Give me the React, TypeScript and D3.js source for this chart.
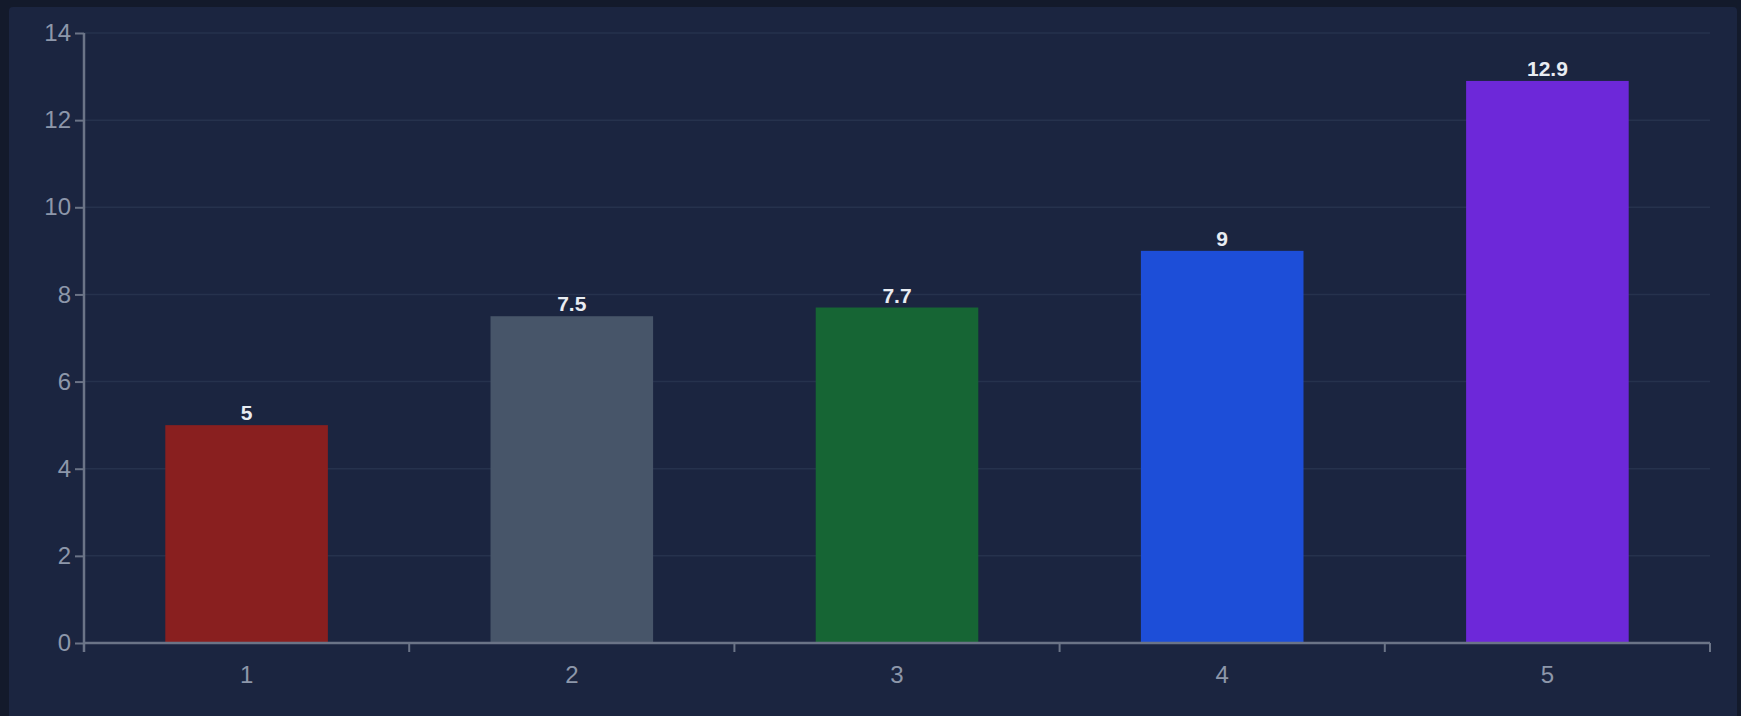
import { useRef, useEffect } from "react";
import * as d3 from "d3";

const categories = ["1", "2", "3", "4", "5"];
const values = [5, 7.5, 7.7, 9, 12.9];
const barColors = ["#891f1f", "#475569", "#166534", "#1d4ed8", "#6d28d9"];
const yTicks = [0, 2, 4, 6, 8, 10, 12, 14];

const W = 1741;
const H = 716;

export default function App() {
  const svgRef = useRef<SVGSVGElement>(null);

  useEffect(() => {
    document.body.style.margin = "0";
    if (!svgRef.current) return;

    const margin = { top: 33, right: 31, bottom: 73, left: 84 };
    const width = W - margin.left - margin.right;
    const height = H - margin.top - margin.bottom;

    const svg = d3.select(svgRef.current);
    svg.selectAll("*").remove();
    svg.attr("width", W).attr("height", H);

    // outer frame + panel
    svg.append("rect").attr("width", W).attr("height", H).attr("fill", "#131a2b");
    svg
      .append("rect")
      .attr("x", 9)
      .attr("y", 7)
      .attr("width", W - 13)
      .attr("height", H)
      .attr("rx", 4)
      .attr("fill", "#1b2540");

    const g = svg
      .append("g")
      .attr("transform", `translate(${margin.left},${margin.top})`);

    const x = d3
      .scaleBand()
      .domain(categories)
      .range([0, width])
      .paddingInner(0.5)
      .paddingOuter(0.25);
    const y = d3.scaleLinear().domain([0, 14]).range([height, 0]);

    // gridlines
    g.append("g")
      .selectAll("line")
      .data(yTicks.filter((t) => t > 0))
      .enter()
      .append("line")
      .attr("x1", 0)
      .attr("x2", width)
      .attr("y1", (d) => y(d))
      .attr("y2", (d) => y(d))
      .attr("stroke", "#26324d")
      .attr("stroke-width", 1.5);

    g.selectAll(".bar")
      .data(values)
      .enter()
      .append("rect")
      .attr("x", (_, i) => x(categories[i])!)
      .attr("y", (d) => y(d))
      .attr("width", x.bandwidth())
      .attr("height", (d) => height - y(d))
      .attr("fill", (_, i) => barColors[i]);

    g.selectAll(".label")
      .data(values)
      .enter()
      .append("text")
      .attr("x", (_, i) => x(categories[i])! + x.bandwidth() / 2)
      .attr("y", (d) => y(d) - 5)
      .attr("text-anchor", "middle")
      .style("font-family", "'Liberation Sans', Arial, sans-serif")
      .style("font-size", "21px")
      .style("font-weight", "bold")
      .style("fill", "#e8ecf2")
      .text((d) => d);

    const axisColor = "#6b7487";
    const labelColor = "#8d97aa";

    const xAxis = g
      .append("g")
      .attr("transform", `translate(0,${height})`)
      .call(d3.axisBottom(x).tickSize(9).tickSizeOuter(9));
    // ticks on band edges like a linear axis
    xAxis.selectAll(".tick line").remove();
    xAxis
      .selectAll(".edge")
      .data(d3.range(categories.length + 1))
      .enter()
      .append("line")
      .attr("x1", (i) => (i * width) / categories.length)
      .attr("x2", (i) => (i * width) / categories.length)
      .attr("y1", 0)
      .attr("y2", 9)
      .attr("stroke", axisColor)
      .attr("stroke-width", 2);
    xAxis
      .selectAll("text")
      .attr("dy", "0.71em")
      .attr("y", 23)
      .style("font-family", "'Liberation Sans', Arial, sans-serif")
      .style("font-size", "24px")
      .style("fill", labelColor);

    const yAxis = g
      .append("g")
      .call(d3.axisLeft(y).tickValues(yTicks).tickSize(9).tickPadding(4));
    yAxis
      .selectAll("text")
      .style("font-family", "'Liberation Sans', Arial, sans-serif")
      .style("font-size", "24px")
      .style("fill", labelColor);

    svg.selectAll(".domain").attr("stroke", axisColor).attr("stroke-width", 2.5);
    yAxis.selectAll(".tick line").attr("stroke", axisColor).attr("stroke-width", 2);
    xAxis.select(".domain").attr("d", `M0,0H${width}`);
    yAxis.select(".domain").attr("d", `M0,${height + 9}V0`);
  }, []);

  return <svg ref={svgRef} style={{ display: "block" }} />;
}
